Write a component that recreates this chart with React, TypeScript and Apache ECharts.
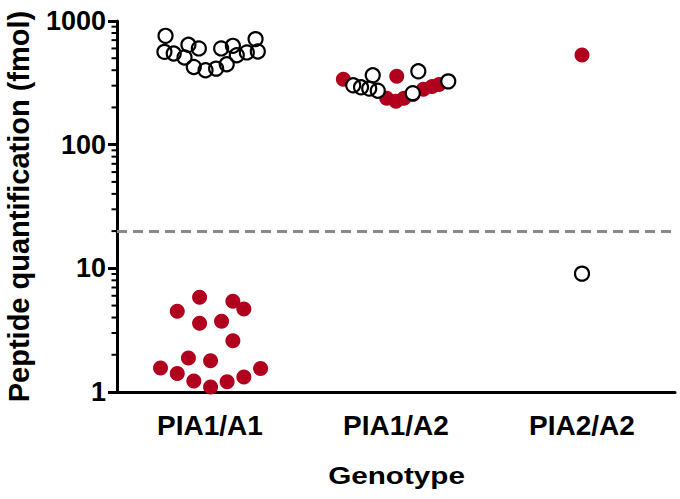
import React, { useEffect, useRef } from 'react';
import * as echarts from 'echarts';

const categories = ['PIA1/A1', 'PIA1/A2', 'PIA2/A2'];
const xAxisTitle = 'Genotype';
const yAxisTitle = 'Peptide quantification (fmol)';
const yMinorTickValues = [2, 3, 4, 5, 6, 7, 8, 9, 20, 30, 40, 50, 60, 70, 80, 90, 200, 300, 400, 500, 600, 700, 800, 900];
const threshold = 20;

// PIA1/A1
const a1ClearValues = [759, 563, 546, 642, 507, 600, 425, 400, 412, 600, 447, 630, 529, 557, 714, 567];
const a1ClearJitter = [-0.239, -0.245, -0.195, -0.116, -0.137, -0.06, -0.087, -0.024, 0.033, 0.06, 0.09, 0.123, 0.144, 0.198, 0.245, 0.257];
const a1FilledValues = [5.84, 4.5, 5.42, 4.7, 3.59, 3.73, 2.6, 1.88, 1.79, 1.56, 1.41, 1.55, 1.23, 1.21, 1.32, 1.1];
const a1FilledJitter = [-0.056, -0.176, 0.123, 0.182, -0.056, 0.062, 0.123, -0.116, 0.003, -0.266, -0.176, 0.272, -0.087, 0.092, 0.182, 0.003];

// PIA1/A2
const a2ClearValues = [302, 291, 284, 273, 364, 392, 261, 325];
const a2ClearJitter = [-0.23, -0.188, -0.144, -0.098, -0.125, 0.12, 0.09, 0.281];
const a2FilledValues = [338, 357, 237, 224, 237, 255, 280, 296, 307];
const a2FilledJitter = [-0.283, 0.004, -0.05, 0, 0.043, 0.091, 0.147, 0.194, 0.231];

// PIA2/A2
const a3ClearValues = [9.06];
const a3ClearJitter = [0];
const a3FilledValues = [532];
const a3FilledJitter = [0];

const FONT = "'Liberation Sans', Arial, Helvetica, sans-serif";
const RED = '#b0001e';

function toPoints(catIndex: number, jitter: number[], values: number[]) {
  return values.map((v, i) => [catIndex + 1 + jitter[i], v]);
}

export default function App() {
  const ref = useRef<HTMLDivElement>(null);
  useEffect(() => {
    if (!ref.current) return;
    const chart = echarts.init(ref.current, null, { renderer: 'svg' });
    const clear = [
      ...toPoints(0, a1ClearJitter, a1ClearValues),
      ...toPoints(1, a2ClearJitter, a2ClearValues),
      ...toPoints(2, a3ClearJitter, a3ClearValues),
    ];
    const filled = [
      ...toPoints(0, a1FilledJitter, a1FilledValues),
      ...toPoints(1, a2FilledJitter, a2FilledValues),
      ...toPoints(2, a3FilledJitter, a3FilledValues),
    ];
    chart.setOption({
      animation: false,
      backgroundColor: '#fff',
      grid: { left: 117, right: 5, top: 21, bottom: 107, outerBoundsMode: 'none', containLabel: false },
      graphic: [
        {
          type: 'text',
          x: 396.5,
          y: 476,
          scaleX: 1.29,
          silent: true,
          style: {
            text: xAxisTitle,
            font: `bold 23px ${FONT}`,
            fill: '#000',
            textAlign: 'center',
            textVerticalAlign: 'middle',
          },
        },
      ],
      xAxis: [
        {
          type: 'category',
          data: categories,
          boundaryGap: true,
          position: 'bottom',
          axisLine: { onZero: false, lineStyle: { color: '#000', width: 3 } },
          axisTick: { alignWithLabel: true, length: 10, lineStyle: { color: '#000', width: 3 } },
          axisLabel: { fontSize: 28, fontWeight: 'bold', color: '#000', fontFamily: FONT, margin: 19 },
          splitLine: { show: false },
        },
        { type: 'value', min: 0.5, max: 3.5, show: false },
      ],
      yAxis: {
        type: 'log',
        logBase: 10,
        min: 1,
        max: 1000,
        axisLine: { show: true, onZero: false, lineStyle: { color: '#000', width: 3 } },
        axisTick: { show: true, length: 9, lineStyle: { color: '#000', width: 3 } },
        axisLabel: {
          fontSize: 27,
          fontWeight: 'bold',
          color: '#000',
          fontFamily: FONT,
          margin: 11,
          formatter: (v: number) => String(Math.round(v)),
        },
        splitLine: { show: false },
        name: yAxisTitle,
        nameLocation: 'middle',
        nameGap: 84,
        nameTextStyle: { fontSize: 29, fontWeight: 'bold', color: '#000', fontFamily: FONT },
      },
      series: [
        {
          type: 'custom',
          xAxisIndex: 1,
          clip: false,
          silent: true,
          z: 10,
          data: yMinorTickValues.map((v) => [1, v]),
          renderItem: (params: any, api: any) => {
            const y = api.coord([api.value(0), api.value(1)])[1];
            const x = params.coordSys.x;
            return {
              type: 'line',
              shape: { x1: x - 5.5, y1: y, x2: x, y2: y },
              style: { stroke: '#000', lineWidth: 2 },
            };
          },
        },
        {
          type: 'scatter',
          xAxisIndex: 1,
          symbol: 'circle',
          symbolSize: 15,
          itemStyle: { color: RED, opacity: 1 },
          data: filled,
          z: 2,
          markLine: {
            silent: true,
            symbol: 'none',
            label: { show: false },
            lineStyle: { color: '#8a8a8a', width: 3, type: [10, 6] },
            data: [{ yAxis: threshold }],
          },
        },
        {
          type: 'scatter',
          xAxisIndex: 1,
          symbol: 'circle',
          symbolSize: 14,
          itemStyle: { color: '#fff', opacity: 1 },
          data: clear,
          z: 3,
        },
        {
          type: 'scatter',
          xAxisIndex: 1,
          symbol: 'circle',
          symbolSize: 14,
          itemStyle: { color: 'rgba(0,0,0,0)', borderColor: '#000', borderWidth: 2.2, opacity: 1 },
          data: clear,
          z: 4,
        },
      ],
    });
    return () => chart.dispose();
  }, []);
  return <div ref={ref} style={{ position: 'fixed', left: 0, top: 0, width: 680, height: 499 }} />;
}
